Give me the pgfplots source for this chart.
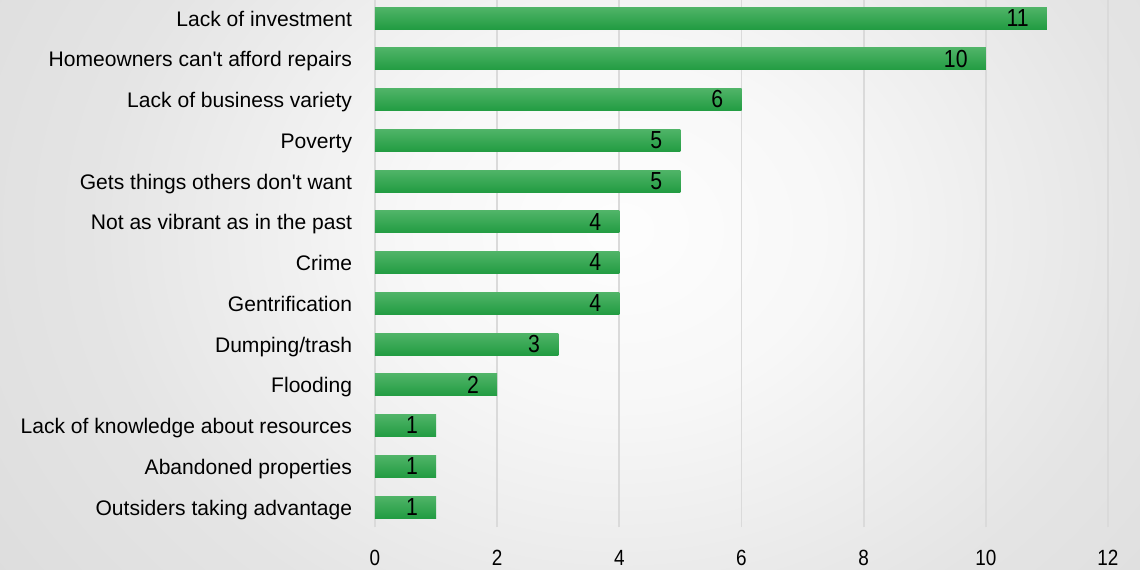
\documentclass[border=0pt]{standalone}
\usepackage{fontspec}
\setmainfont{Liberation Sans}
\newfontfamily\narrow{Liberation Sans}[FakeStretch=0.86]
\usepackage{pgfplots}
\pgfplotsset{compat=1.18}
\definecolor{bg}{RGB}{217,217,217}
\definecolor{gridc}{RGB}{218,218,218}
\definecolor{bartop}{RGB}{80,180,104}
\definecolor{barbot}{RGB}{34,156,66}
\pgfdeclareradialshading{bgshade}{\pgfpoint{0bp}{0bp}}{%
  color(0bp)=(white!96!bg); color(6bp)=(white!80!bg); color(15bp)=(white!30!bg); color(25bp)=(bg); color(50bp)=(bg)}
\pgfplotsset{onebar/.style={draw=none, top color=bartop, bottom color=barbot, bar shift=0pt}}
\begin{document}
\begin{tikzpicture}
\fill[bg, use as bounding box] (0,0) rectangle (855pt,427.5pt);
\shade[shading=bgshade] (465pt,255pt) ellipse (660pt and 540pt);
\begin{axis}[
  anchor=south west, at={(281.25pt,31.95pt)},
  scale only axis, width=549.75pt, height=397.3pt,
  xmin=0, xmax=12, ymin=-0.5, ymax=12.5,
  xbar, bar width=16.5pt,
  axis line style={draw=none}, tick style={draw=none},
  xtick={0,2,...,12}, xmajorgrids=true, ymajorgrids=false,
  major grid style={draw=gridc, line width=1.4pt},
  ytick={0,...,12},
  yticklabels={Outsiders taking advantage, Abandoned properties, Lack of knowledge about resources, Flooding, Dumping/trash, Gentrification, Crime, Not as vibrant as in the past, Gets things others don\textquotesingle t want, Poverty, Lack of business variety, Homeowners can\textquotesingle t afford repairs, Lack of investment},
  /pgf/number format/assume math mode=true,
  xticklabel style={font=\narrow\fontsize{16.5}{18}\selectfont, anchor=base, yshift=-28.5pt, inner sep=0pt},
  yticklabel style={font=\fontsize{15.8}{18}\selectfont, anchor=base east, xshift=-12.75pt, yshift=-6pt, inner sep=0pt},
  nodes near coords,
  every node near coord/.append style={anchor=base east, xshift=-13.5pt, yshift=-6.2pt, inner sep=0pt, font=\narrow\fontsize{18.5}{20}\selectfont, text=black},
]
\addplot[onebar] coordinates {(1,0)};
\addplot[onebar] coordinates {(1,1)};
\addplot[onebar] coordinates {(1,2)};
\addplot[onebar] coordinates {(2,3)};
\addplot[onebar] coordinates {(3,4)};
\addplot[onebar] coordinates {(4,5)};
\addplot[onebar] coordinates {(4,6)};
\addplot[onebar] coordinates {(4,7)};
\addplot[onebar] coordinates {(5,8)};
\addplot[onebar] coordinates {(5,9)};
\addplot[onebar] coordinates {(6,10)};
\addplot[onebar] coordinates {(10,11)};
\addplot[onebar] coordinates {(11,12)};
\end{axis}
\end{tikzpicture}
\end{document}
